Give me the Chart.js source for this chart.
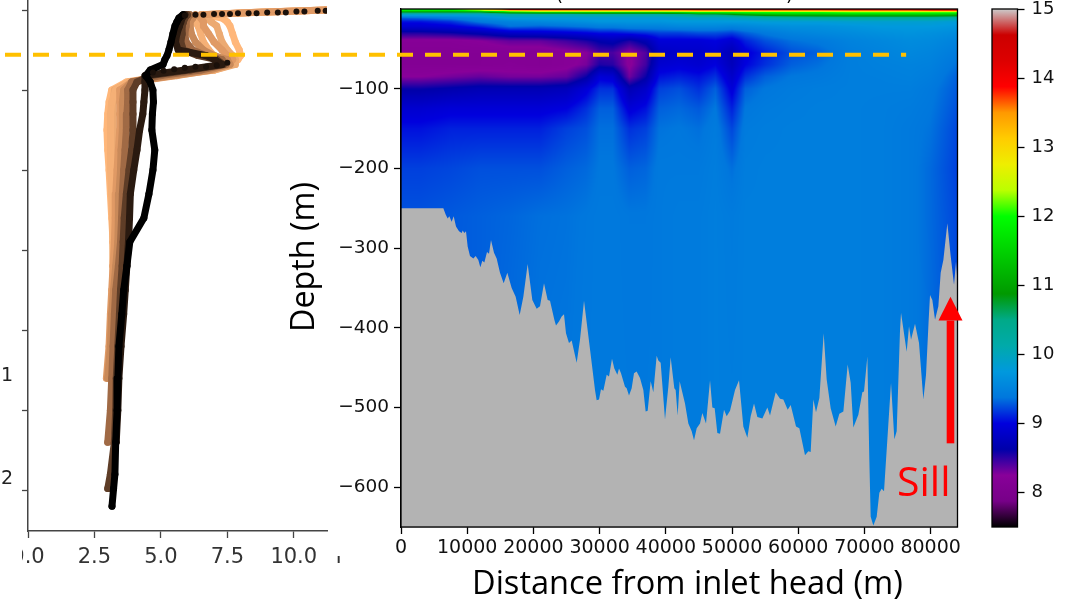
<!DOCTYPE html>
<html>
<head>
<meta charset="utf-8">
<script src="https://cdn.jsdelivr.net/npm/chart.js@4"></script>
<style>
html, body { margin: 0; padding: 0; background: #fff; overflow: hidden; }
#page { position: relative; width: 1081px; height: 603px; overflow: hidden; }
canvas { position: absolute; top: 0; }
.note { position: absolute; white-space: nowrap; color: #000; line-height: 1; }
</style>
</head>
<body>
<div id="page">
  <canvas id="profileChart" width="318" height="603" style="left:22px"></canvas>
  <canvas id="sectionChart" width="1081" height="603" style="left:0"></canvas>
  <canvas id="barChart" width="1081" height="603" style="left:0"></canvas>
  <div class="note" style="left:1px;top:363px;font:19px 'DejaVu Sans';color:#222">1</div>
  <div class="note" style="left:1px;top:466px;font:19px 'DejaVu Sans';color:#222">2</div>
  <div class="note" style="left:335px;top:556px;width:11px;height:7px;overflow:hidden"><span style="position:absolute;left:-3px;top:-9px;font:20px 'DejaVu Sans';color:#333">1</span></div>
  <div class="note" style="left:556px;top:-16px;font:18px 'DejaVu Sans'">(</div>
  <div class="note" style="left:786px;top:-16px;font:18px 'DejaVu Sans'">)</div>
  <div class="note" style="left:472px;top:559px;font:32.6px 'Open Sans'">Distance from inlet head (m)</div>
  <div class="note" style="left:301px;top:257px;font:32.3px 'Open Sans';transform:translate(-50%,-50%) rotate(-90deg)">Depth (m)</div>
  <div class="note" style="left:897px;top:452px;font:41px 'Open Sans';color:#ff0000">Sill</div>
</div>
<script>
// section grid: temperature at each distance (outer) and depth (inner)
var gridDepths = [0, 2, 4, 7, 11, 16, 22, 30, 40, 55, 70, 85, 100, 125, 150, 200, 260, 650];
var gridDistances = [0, 3000, 7500, 12000, 16500, 21000, 25000, 28000, 30000, 32000, 34500, 37000, 39000,
    42000, 45000, 47500, 50000, 52000, 55000, 59000, 63000, 68000, 72500, 77000, 80000, 84100];
var gridTemps = [
    [12.0,11.8,10.8,9.9,9.3,9.05,8.9,8.55,8.2,8.15,8.15,8.25,8.6,8.9,9.05,9.2,9.26,9.28],
    [12.0,11.8,10.8,9.9,9.35,9.05,8.9,8.55,8.2,8.15,8.15,8.25,8.6,8.9,9.05,9.2,9.26,9.28],
    [12.0,11.8,10.8,9.9,9.45,9.15,8.95,8.6,8.2,8.15,8.15,8.3,8.65,8.95,9.1,9.22,9.28,9.3],
    [12.8,12.2,10.8,9.9,9.6,9.4,9.1,8.7,8.25,8.15,8.15,8.35,8.7,8.95,9.1,9.25,9.3,9.3],
    [14.2,13.2,11.4,10.1,9.8,9.5,9.35,8.85,8.35,8.15,8.18,8.3,8.7,8.95,9.1,9.25,9.32,9.35],
    [14.5,13.4,11.6,10.1,9.8,9.55,9.3,8.9,8.35,8.15,8.15,8.3,8.7,8.95,9.1,9.25,9.35,9.38],
    [14.6,13.4,11.6,10.1,9.8,9.6,9.35,8.95,8.45,8.2,8.2,8.35,8.75,9.0,9.2,9.3,9.36,9.38],
    [14.5,13.4,11.6,10.2,9.8,9.65,9.4,9.0,8.55,8.25,8.3,8.6,8.95,9.15,9.25,9.33,9.38,9.4],
    [14.5,13.4,11.6,10.2,9.8,9.7,9.45,9.05,8.65,8.42,8.55,8.95,9.15,9.3,9.35,9.38,9.4,9.4],
    [14.6,13.4,11.6,10.2,9.8,9.7,9.45,9.05,8.7,8.42,8.52,8.9,9.15,9.3,9.35,9.38,9.4,9.4],
    [14.6,13.4,11.6,10.2,9.8,9.7,9.5,9.1,8.55,8.22,8.22,8.32,8.7,8.95,9.15,9.3,9.38,9.4],
    [14.6,13.4,11.6,10.2,9.8,9.7,9.5,9.15,8.7,8.4,8.45,8.6,8.85,9.05,9.2,9.32,9.38,9.4],
    [14.6,13.4,11.6,10.2,9.8,9.7,9.5,9.2,8.95,8.8,8.9,9.05,9.2,9.3,9.36,9.4,9.4,9.4],
    [14.6,13.4,11.7,10.3,9.85,9.75,9.55,9.2,8.95,8.85,8.95,9.1,9.25,9.33,9.38,9.4,9.42,9.42],
    [14.7,13.5,12.0,10.6,9.9,9.75,9.55,9.25,8.95,8.85,8.9,9.05,9.15,9.28,9.35,9.4,9.42,9.42],
    [14.7,13.5,12.0,10.6,9.9,9.75,9.55,9.25,9.0,8.9,9.0,9.15,9.3,9.38,9.42,9.44,9.45,9.45],
    [14.7,13.5,12.0,10.8,9.95,9.75,9.5,9.2,8.9,8.7,8.75,8.85,8.95,9.1,9.22,9.35,9.42,9.45],
    [14.6,13.5,12.1,11.0,10.0,9.75,9.55,9.3,9.1,8.95,9.0,9.15,9.3,9.38,9.42,9.44,9.45,9.45],
    [14.7,13.5,12.1,11.2,10.1,9.8,9.6,9.4,9.25,9.1,9.15,9.3,9.38,9.42,9.44,9.45,9.45,9.45],
    [14.6,13.5,12.1,11.3,10.2,9.8,9.65,9.5,9.35,9.25,9.3,9.38,9.42,9.44,9.45,9.45,9.45,9.45],
    [14.4,13.5,12.1,11.3,10.3,9.8,9.65,9.55,9.4,9.3,9.35,9.4,9.44,9.45,9.45,9.45,9.45,9.45],
    [14.2,13.6,12.2,11.4,10.3,9.85,9.7,9.6,9.5,9.45,9.45,9.45,9.45,9.45,9.45,9.45,9.45,9.45],
    [14.3,13.6,12.2,11.4,10.3,9.85,9.75,9.65,9.55,9.5,9.48,9.46,9.45,9.44,9.44,9.44,9.44,9.44],
    [14.4,13.6,12.2,11.4,10.3,9.85,9.75,9.68,9.6,9.55,9.5,9.48,9.45,9.42,9.4,9.4,9.4,9.4],
    [14.5,13.7,12.2,11.4,10.3,9.85,9.75,9.65,9.58,9.52,9.48,9.44,9.4,9.38,9.36,9.33,9.33,9.35],
    [14.6,13.7,12.2,11.3,10.2,9.8,9.7,9.6,9.5,9.42,9.35,9.3,9.28,9.25,9.22,9.2,9.22,9.25]
];

// sea floor along the inlet
var floorDistances = [0,6395,6747,7050,7300,7654,7956,8308,8761,9164,9315,9567,9819,10070,10423,10926,11279,11682,11984,12286,12588,12991,13293,13595,14048,14451,14955,15508,16062,16717,17321,17925,18479,19133,19838,20493,20996,21600,22155,22507,23161,23413,23866,24269,24622,24923,25376,25780,26535,27038,27643,28197,28801,29304,29556,29908,30210,30563,31067,31419,31872,32224,32678,32930,33231,33836,34087,34440,34843,35195,35597,36101,36605,36957,37259,37712,38115,38619,38870,39224,39878,40381,40733,41287,41489,41791,42093,42899,43405,43908,44261,44664,45167,45519,46073,46678,47030,47382,47785,48188,48792,49195,49699,50454,51058,51713,52317,52820,53324,53827,54583,55338,55741,56596,57251,57755,58409,58862,59668,60171,61027,61531,61882,62286,62689,63192,63847,64300,64904,65659,66213,66818,67472,67925,68328,69083,69687,69939,70443,70745,70947,71349,71853,72255,72608,72960,74018,74521,74873,75377,75528,76384,76736,77038,77642,78246,78902,79304,79707,79909,80260,80664,81167,81520,81923,82527,83030,83533,83835,84100];
var floorDepths = [-250,-250,-258,-263,-260,-267,-260,-273,-279,-281,-278,-281,-279,-298,-310,-313,-310,-315,-324,-316,-318,-305,-307,-290,-306,-313,-331,-344,-331,-350,-361,-384,-361,-320,-365,-376,-373,-344,-365,-366,-390,-397,-392,-386,-383,-407,-419,-416,-444,-415,-366,-403,-444,-478,-491,-490,-477,-479,-459,-461,-439,-451,-459,-451,-457,-474,-476,-485,-476,-457,-455,-463,-478,-505,-504,-467,-481,-435,-441,-444,-515,-474,-437,-476,-478,-510,-467,-495,-520,-530,-541,-526,-520,-507,-520,-466,-500,-501,-532,-533,-503,-511,-504,-478,-466,-524,-538,-511,-495,-512,-514,-500,-510,-481,-489,-490,-503,-497,-524,-526,-560,-555,-556,-490,-506,-488,-407,-465,-501,-524,-508,-505,-446,-469,-525,-509,-481,-480,-436,-566,-637,-648,-637,-607,-602,-605,-469,-540,-530,-403,-381,-430,-398,-415,-395,-419,-490,-459,-390,-359,-365,-390,-373,-331,-315,-269,-310,-346,-317,-348];

// temperature profiles, all read at these depths (negative, down)
// darker casts have no reading in the top metres, first listed is drawn on top
var profileDepths = [0,-3,-6,-10,-15,-20,-30,-40,-50,-57,-62,-68,-75,-82,-90,-100,-115,-130,-150,-175,-200,-230,-260,-290,-320,-350,-380,-420,-460,-500,-540,-580,-598,-620];
var profileColors = ['#000000','#2a1a10','#5e3d27','#a06a45','#c98a5a','#e09a65','#f5b076','#ecaa72','#ffb77a'];
var profileTemps = [
    [null,null,5.83,5.68,5.6,5.53,5.45,5.38,5.3,5.23,5.15,5.08,4.6,4.43,4.6,4.7,4.72,4.68,4.66,4.77,4.7,4.55,4.36,3.83,3.72,3.6,3.53,3.42,3.38,3.35,3.3,3.27,3.22,3.16],
    [null,null,5.9,5.8,5.75,5.7,5.6,5.55,5.65,6.7,7.03,7.3,5.9,4.4,4.4,4.4,4.36,4.32,4.2,4.1,3.98,3.85,3.82,3.78,3.72,3.66,3.6,3.5,3.42,3.38,3.32],
    [null,null,6.0,5.9,5.85,5.8,5.8,5.75,5.85,6.4,7.1,7.35,6.1,4.6,4.1,3.95,3.95,3.95,3.95,3.9,3.8,3.7,3.62,3.58,3.54,3.48,3.44,3.38,3.32,3.3,3.25,3.1,3.0],
    [null,null,6.1,6.0,5.95,5.95,5.9,5.95,6.2,6.7,7.3,7.45,6.5,5.0,3.9,3.75,3.75,3.72,3.7,3.65,3.6,3.55,3.52,3.48,3.4,3.3,3.25,3.2,3.15,3.1,3.0],
    [null,null,6.3,6.2,6.1,6.1,6.15,6.3,6.6,7.0,7.5,7.6,6.8,5.4,3.9,3.6,3.55,3.55,3.55,3.5,3.48,3.42,3.4,3.38,3.3,3.22,3.15,3.1,3.0],
    [11.2,8.4,6.5,6.5,6.6,6.6,6.8,7.0,7.3,7.5,7.7,7.5,6.9,5.6,3.9,3.45,3.45,3.45,3.45,3.4,3.35,3.3,3.28,3.25,3.2,3.15,3.1,3.05,2.95],
    [11.2,8.4,6.6,6.5,6.3,6.4,6.5,6.6,6.8,7.0,7.3,7.4,6.6,5.3,3.8,3.3,3.15,3.1,3.1,3.1,3.12,3.15,3.18,3.2,3.2],
    [11.2,8.4,6.6,6.7,6.9,7.1,7.2,7.3,7.5,7.7,7.8,7.8,7.0,5.5,3.8,3.25,3.2,3.2,3.2,3.2,3.2,3.2,3.2,3.2,3.2,3.2,3.15],
    [11.3,8.5,6.7,7.3,7.5,7.6,7.7,7.8,7.95,8.0,7.9,7.7,7.0,5.2,3.7,3.15,3.05,3.0,2.97,3.0,3.05,3.1,3.15,3.2,3.25]
];
var surfaceDotTemps = [11.2,10.9,10.4,10.1,9.7,9.4,9.0,8.6,8.3,7.9,7.6,7.3,7.0,6.6,6.3,5.9,7.5,7.1,6.7,6.3,5.9,5.5,5.1,4.7];
var surfaceDotDepths = [-1,-1,-2,-2,-3,-3,-3,-4,-4,-4,-5,-5,-5,-6,-6,-7,-66,-69,-71,-71,-72,-74,-76,-78];

var tempTicks = [0, 2.5, 5, 7.5, 10];
var depthTicks = [-100, -200, -300, -400, -500, -600];
var profileDepthTicks = [0, -100, -200, -300, -400, -500, -600];
var distanceTicks = [0, 10000, 20000, 30000, 40000, 50000, 60000, 70000, 80000];
var colorTicks = [8, 9, 10, 11, 12, 13, 14, 15];

// the colour scale, as fractions of the 7.5 to 15 range
var colorMin = 7.5;
var colorMax = 15;
var colorStops = [0,.05,.1,.15,.2,.25,.3,.35,.4,.45,.5,.55,.6,.65,.7,.75,.8,.85,.9,.95,1];
var colorValues = [[0,0,0],[119,0,136],[136,0,153],[0,0,170],[0,0,221],[0,119,221],[0,153,221],[0,170,170],[0,170,136],[0,153,0],[0,187,0],[0,221,0],[0,255,0],[187,255,0],[238,238,0],[255,204,0],[255,153,0],[255,0,0],[221,0,0],[204,0,0],[204,204,204]];

// guide line and sill arrow, in section data units
var guideDepth = -57.5;
var guideEnd = 76300;
var sillDistance = 83000;
var sillBase = -545;
var sillNeck = -391;
var sillTip = -361;

function findSpan(list, v) {
    var i = 0;
    while (i < list.length - 2 && v > list[i + 1]) i++;
    var t = (v - list[i]) / (list[i + 1] - list[i]);
    return [i, Math.max(0, Math.min(1, t))];
}

function tempToRgb(temp) {
    var f = (temp - colorMin) / (colorMax - colorMin);
    var s = findSpan(colorStops, f);
    var a = colorValues[s[0]], b = colorValues[s[0] + 1];
    return [a[0] + (b[0] - a[0]) * s[1], a[1] + (b[1] - a[1]) * s[1], a[2] + (b[2] - a[2]) * s[1]];
}

// paints the grid pixel by pixel, the bathymetry dataset then covers it
var sectionPlugin = {
    id: 'sectionPlugin',
    beforeDatasetsDraw: function (chart) {
        var area = chart.chartArea, xs = chart.scales.x, ys = chart.scales.y;
        var left = Math.round(area.left), top = Math.round(area.top);
        var w = Math.round(area.right) - left, h = Math.round(area.bottom) - top;
        var img = chart.ctx.createImageData(w, h);
        var xSpans = [], ySpans = [];
        for (var px = 0; px < w; px++) xSpans.push(findSpan(gridDistances, xs.getValueForPixel(left + px + 0.5)));
        for (var py = 0; py < h; py++) ySpans.push(findSpan(gridDepths, -ys.getValueForPixel(top + py + 0.5)));
        var n = 0;
        for (py = 0; py < h; py++) {
            var r = ySpans[py][0], rt = ySpans[py][1];
            for (px = 0; px < w; px++) {
                var c = xSpans[px][0], ct = xSpans[px][1];
                var up = gridTemps[c][r] * (1 - ct) + gridTemps[c + 1][r] * ct;
                var down = gridTemps[c][r + 1] * (1 - ct) + gridTemps[c + 1][r + 1] * ct;
                var rgb = tempToRgb(up * (1 - rt) + down * rt);
                img.data[n++] = rgb[0];
                img.data[n++] = rgb[1];
                img.data[n++] = rgb[2];
                img.data[n++] = 255;
            }
        }
        chart.ctx.putImageData(img, left, top);
    },
    afterDraw: function (chart) {
        var ctx = chart.ctx, area = chart.chartArea, xs = chart.scales.x, ys = chart.scales.y;
        ctx.save();
        ctx.strokeStyle = '#000';
        ctx.lineWidth = 1.3;
        ctx.strokeRect(area.left, area.top, area.right - area.left, area.bottom - area.top);

        ctx.strokeStyle = '#ffc000';
        ctx.lineWidth = 4;
        ctx.setLineDash([16, 12]);
        ctx.beginPath();
        ctx.moveTo(5, ys.getPixelForValue(guideDepth));
        ctx.lineTo(xs.getPixelForValue(guideEnd), ys.getPixelForValue(guideDepth));
        ctx.stroke();
        ctx.setLineDash([]);

        var sx = xs.getPixelForValue(sillDistance);
        ctx.fillStyle = '#ff0000';
        ctx.fillRect(sx - 3.8, ys.getPixelForValue(sillNeck), 7.6, ys.getPixelForValue(sillBase) - ys.getPixelForValue(sillNeck));
        ctx.beginPath();
        ctx.moveTo(sx, ys.getPixelForValue(sillTip));
        ctx.lineTo(sx + 12, ys.getPixelForValue(sillNeck));
        ctx.lineTo(sx - 12, ys.getPixelForValue(sillNeck));
        ctx.closePath();
        ctx.fill();
        ctx.restore();
    }
};

var framePlugin = {
    id: 'framePlugin',
    afterDraw: function (chart) {
        var area = chart.chartArea;
        chart.ctx.strokeStyle = '#000';
        chart.ctx.lineWidth = 1.3;
        chart.ctx.strokeRect(area.left, area.top, area.right - area.left, area.bottom - area.top);
    }
};

function setTicks(list) {
    return function (scale) {
        scale.ticks = list.map(function (v) { return { value: v }; });
    };
}

// fixed axis sizes, and no room reserved for overhanging labels
function fixWidth(w) {
    return function (scale) { scale.width = w; scale.paddingTop = 0; scale.paddingBottom = 0; };
}
function fixHeight(h) {
    return function (scale) { scale.height = h; scale.paddingLeft = 0; scale.paddingRight = 0; };
}

function zipPoints(xs, ys) {
    return xs.map(function (x, i) { return { x: x, y: ys[i] }; });
}

// Left panel
var profileSets = [{
    data: zipPoints(surfaceDotTemps, surfaceDotDepths),
    showLine: false,
    pointRadius: 3,
    pointBackgroundColor: '#1a100a',
    pointBorderWidth: 0
}];
profileTemps.forEach(function (temps, i) {
    profileSets.push({
        data: zipPoints(temps, profileDepths),
        showLine: true,
        borderColor: profileColors[i],
        backgroundColor: profileColors[i],
        borderWidth: 7,
        borderCapStyle: 'round',
        borderJoinStyle: 'round',
        pointRadius: 3.5,
        pointBorderWidth: 0,
        tension: 0
    });
});

new Chart(document.getElementById('profileChart'), {
    type: 'scatter',
    data: { datasets: profileSets },
    options: {
        responsive: false,
        animation: false,
        layout: { autoPadding: false, padding: { left: 0, top: 0, right: 13, bottom: 0 } },
        plugins: { legend: { display: false }, tooltip: { enabled: false } },
        scales: {
            x: {
                type: 'linear', min: 0, max: 11.25,
                afterBuildTicks: setTicks(tempTicks),
                afterFit: fixHeight(72),
                grid: { drawOnChartArea: false, color: '#444', tickLength: 7, tickWidth: 1.3 },
                border: { color: '#444', width: 1.5 },
                ticks: {
                    font: { family: 'DejaVu Sans', size: 21 }, color: '#333', padding: 7, maxRotation: 0, autoSkip: false,
                    callback: function (v) { return v.toFixed(1); }
                }
            },
            y: {
                type: 'linear', min: -651, max: 12.5,
                afterBuildTicks: setTicks(profileDepthTicks),
                afterFit: fixWidth(6),
                grid: { drawOnChartArea: false, color: '#444', tickLength: 6, tickWidth: 1.3 },
                border: { color: '#444', width: 1.5 },
                ticks: { display: false }
            }
        }
    }
});

// Section panel
new Chart(document.getElementById('sectionChart'), {
    type: 'line',
    data: {
        datasets: [{
            data: zipPoints(floorDistances, floorDepths),
            borderWidth: 0,
            pointRadius: 0,
            tension: 0,
            fill: 'start',
            backgroundColor: '#b3b3b3'
        }]
    },
    plugins: [sectionPlugin],
    options: {
        responsive: false,
        animation: false,
        layout: { autoPadding: false, padding: { left: 0, top: 9, right: 123.5, bottom: 0 } },
        plugins: { legend: { display: false }, tooltip: { enabled: false } },
        scales: {
            x: {
                type: 'linear', min: 0, max: 84060,
                afterBuildTicks: setTicks(distanceTicks),
                afterFit: fixHeight(76),
                grid: { drawOnChartArea: false, color: '#000', tickLength: 7, tickWidth: 1.3 },
                border: { color: '#000', width: 1.3 },
                ticks: { font: { family: 'DejaVu Sans', size: 19 }, color: '#111', padding: 3, maxRotation: 0, autoSkip: false,
                    callback: function (v) { return String(v); } }
            },
            y: {
                type: 'linear', min: -650, max: 0,
                afterBuildTicks: setTicks(depthTicks),
                afterFit: fixWidth(401),
                grid: { drawOnChartArea: false, color: '#000', tickLength: 7, tickWidth: 1.3 },
                border: { color: '#000', width: 1.3 },
                ticks: { font: { family: 'DejaVu Sans', size: 18.5 }, color: '#111', padding: 5,
                    callback: function (v) { return '\u2212' + Math.abs(v); } }
            }
        }
    }
});

// Colour bar
new Chart(document.getElementById('barChart'), {
    type: 'bar',
    data: {
        labels: ['temperature'],
        datasets: [{
            data: [[colorMin, colorMax]],
            barPercentage: 1,
            categoryPercentage: 1,
            backgroundColor: function (context) {
                var chart = context.chart;
                if (!chart.chartArea) return '#000';
                var ys = chart.scales.y;
                var g = chart.ctx.createLinearGradient(0, ys.getPixelForValue(colorMin), 0, ys.getPixelForValue(colorMax));
                colorStops.forEach(function (s, i) {
                    g.addColorStop(s, 'rgb(' + colorValues[i].join(',') + ')');
                });
                return g;
            }
        }]
    },
    plugins: [framePlugin],
    options: {
        responsive: false,
        animation: false,
        layout: { autoPadding: false, padding: { left: 992, top: 9, right: 0, bottom: 76 } },
        plugins: { legend: { display: false }, tooltip: { enabled: false } },
        scales: {
            x: { display: false },
            y: {
                position: 'right',
                type: 'linear', min: colorMin, max: colorMax,
                afterBuildTicks: setTicks(colorTicks),
                afterFit: fixWidth(63.5),
                grid: { drawOnChartArea: false, color: '#000', tickLength: 7, tickWidth: 1.3 },
                border: { display: false },
                ticks: { font: { family: 'DejaVu Sans', size: 18 }, color: '#111', padding: 7, callback: function (v) { return String(v); } }
            }
        }
    }
});
</script>
</body>
</html>
